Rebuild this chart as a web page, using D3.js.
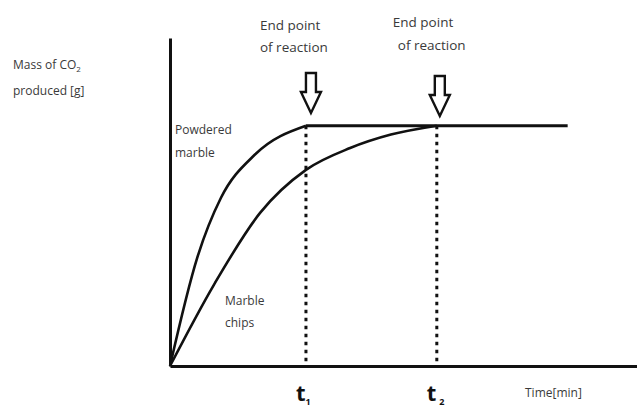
<!DOCTYPE html>
<html><head><meta charset="utf-8">
<script src="https://cdn.jsdelivr.net/npm/d3@7"></script>
<style>
body{margin:0;background:#fff}
svg{display:block}
text{font-family:"Open Sans","Liberation Sans",sans-serif}
</style></head>
<body><svg id="c" width="637" height="408"></svg>
<script>
// ---- data ----
const powderedTime = [0, 0.8, 1.5, 2.5, 4.0];
const powderedMass = [0, 0.45, 0.70, 0.88, 1.0];
const chipsTime = [0, 1.3, 2.65, 4.0, 5.3, 6.5, 7.85];
const chipsMass = [0, 0.34, 0.637, 0.816, 0.907, 0.963, 1.0];
const endTimes = [4.0, 7.85];
const endSubs = ["1", "2"];
const plateauMass = 1.0;
const plateauEnd = 11.7;
const xAxisMax = 13.74;
const yAxisMax = 1.365;
const yTitle = ["Mass of CO", "produced [g]"];
const xTitle = "Time[min]";
const endLabel = ["End point", "of reaction"];
const curveLabels = [["Powdered", "marble"], ["Marble", "chips"]];

// ---- drawing ----
const svg = d3.select("#c");
const x = d3.scaleLinear().domain([0, xAxisMax]).range([170, 637]);
const y = d3.scaleLinear().domain([0, yAxisMax]).range([366, 38]);
const ink = "#111";
const txt = "#3a3a3a";

const line = d3.line().x(d => x(d[0])).y(d => y(d[1])).curve(d3.curveMonotoneX);
const powdered = powderedTime.map((t, i) => [t, powderedMass[i]]);
const chips = chipsTime.map((t, i) => [t, chipsMass[i]]);

// dashed verticals
svg.selectAll("line.drop").data(endTimes).join("line")
  .attr("x1", d => x(d)).attr("x2", d => x(d))
  .attr("y1", y(plateauMass)).attr("y2", y(0))
  .attr("stroke", ink).attr("stroke-width", 3).attr("stroke-dasharray", "3.5,4.5");

// curves
[powdered, chips].forEach(p => {
  svg.append("path").attr("d", line(p)).attr("fill", "none")
    .attr("stroke", ink).attr("stroke-width", 2.6);
});
// plateau
svg.append("line").attr("x1", x(endTimes[0])).attr("x2", x(plateauEnd))
  .attr("y1", y(plateauMass)).attr("y2", y(plateauMass))
  .attr("stroke", ink).attr("stroke-width", 3);

// axes
const xAxis = d3.axisBottom(x).tickValues([]).tickSizeOuter(0);
const yAxis = d3.axisLeft(y).tickValues([]).tickSizeOuter(0);
svg.append("g").attr("transform", `translate(0,${y(0)})`).call(xAxis)
  .select(".domain").attr("stroke", ink).attr("stroke-width", 3);
svg.append("g").attr("transform", `translate(${x(0)},0)`).call(yAxis)
  .select(".domain").attr("stroke", ink).attr("stroke-width", 3);

// arrows
const arrowPath = "M-5,-40 L5,-40 L5,-21 L10,-21 L0,0 L-10,-21 L-5,-21 Z";
const arrowPos = [[5, 113], [3, 116]];
endTimes.forEach((t, i) => {
  svg.append("path").attr("d", arrowPath)
    .attr("transform", `translate(${x(t) + arrowPos[i][0]},${arrowPos[i][1]})`)
    .attr("fill", "#fff").attr("stroke", ink).attr("stroke-width", 2.4)
    .attr("stroke-linejoin", "miter");
});

// end-point labels
const endLabelPos = [[-46, 30, 52], [-44, 27, 50]];
endTimes.forEach((t, i) => {
  const [dx, y1, y2] = endLabelPos[i];
  svg.append("text").attr("x", x(t) + dx).attr("y", y1).attr("font-size", 13.5).attr("fill", txt).text(endLabel[0]);
  svg.append("text").attr("x", x(t) + dx + (i ? 5 : 0)).attr("y", y2).attr("font-size", 13.5).attr("fill", txt).text(endLabel[1]);
});

// y title
const yt = svg.append("text").attr("x", 13).attr("y", 69).attr("font-size", 12).attr("fill", txt);
yt.append("tspan").text(yTitle[0]);
yt.append("tspan").attr("font-size", 8).attr("dy", 3).text("2");
svg.append("text").attr("x", 13).attr("y", 95).attr("font-size", 12).attr("fill", txt).text(yTitle[1]);

// x title
svg.append("text").attr("x", 525).attr("y", 397).attr("font-size", 12).attr("fill", txt).text(xTitle);

// t labels
endTimes.forEach((t, i) => {
  const g = svg.append("text").attr("x", x(t) - 10).attr("y", 401)
    .attr("font-size", 22).attr("font-weight", "bold").attr("fill", ink);
  g.append("tspan").text("t");
  g.append("tspan").attr("font-size", 9).attr("dy", 4).attr("dx", i ? 3 : 0).text(endSubs[i]);
});

// curve labels
const curveLabelPos = [[175, 134, 157], [225, 305, 327]];
curveLabels.forEach((lab, i) => {
  const [lx, l1, l2] = curveLabelPos[i];
  svg.append("text").attr("x", lx).attr("y", l1).attr("font-size", 12).attr("fill", txt).text(lab[0]);
  svg.append("text").attr("x", lx).attr("y", l2).attr("font-size", 12).attr("fill", txt).text(lab[1]);
});
</script></body></html>
